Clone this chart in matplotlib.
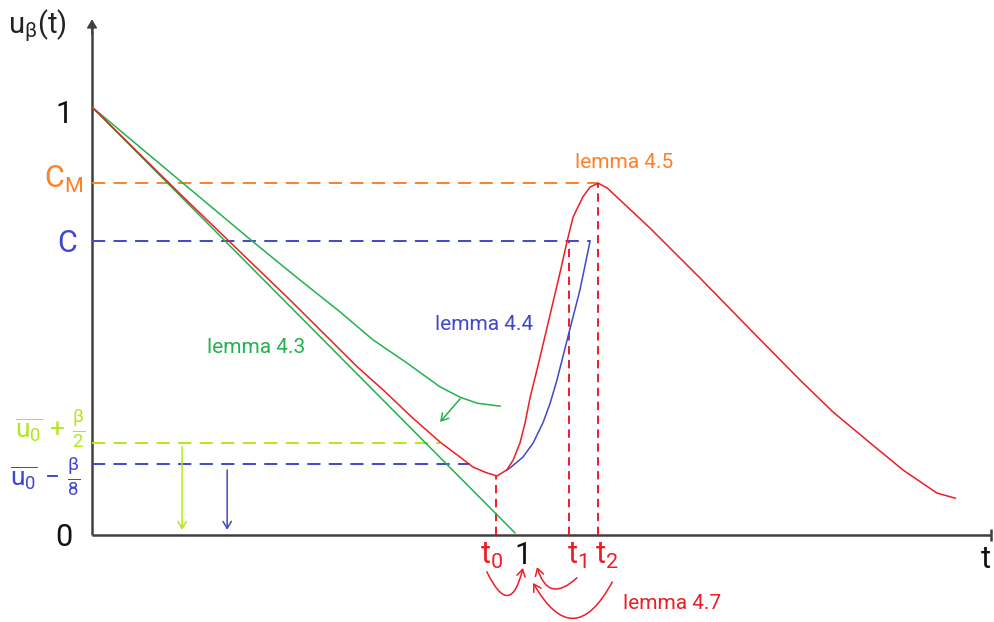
import matplotlib
matplotlib.use('Agg')
import matplotlib.pyplot as plt

plt.rcParams['font.family'] = ['Roboto', 'DejaVu Sans']
plt.rcParams['mathtext.fontset'] = 'custom'
plt.rcParams['mathtext.rm'] = 'Roboto'
plt.rcParams['mathtext.it'] = 'Roboto'
plt.rcParams['mathtext.sf'] = 'Roboto'
plt.rcParams['mathtext.bf'] = 'Roboto:bold'
plt.rcParams['lines.scale_dashes'] = False

RED = '#EE1C24'
ORANGE = '#FF7F27'
LIME = '#B5E61D'
BLUE = '#3F48CC'
GREEN = '#22B14C'
AXIS = '#404040'

# --- schematic data (t, u) ---
green_line_t = [0.0, 0.995]
green_line_u = [1.0, 0.005]

green_bound_t = [0.0, 0.214, 0.379, 0.489, 0.584, 0.661, 0.741, 0.819, 0.866, 0.906, 0.960]
green_bound_u = [1.0, 0.822, 0.685, 0.596, 0.521, 0.456, 0.402, 0.346, 0.322, 0.308, 0.301]

red_t = [0.0, 0.207, 0.466, 0.544, 0.624, 0.685, 0.755, 0.819, 0.866, 0.896,
         0.929, 0.953, 0.976, 0.991, 1.007, 1.019, 1.031, 1.047, 1.071, 1.101,
         1.118, 1.132, 1.155, 1.172, 1.191, 1.212, 1.313, 1.431, 1.548, 1.666,
         1.744, 1.831, 1.908, 1.988, 2.031]
red_u = [1.0, 0.797, 0.549, 0.472, 0.393, 0.339, 0.273, 0.217, 0.182, 0.159,
         0.145, 0.138, 0.152, 0.175, 0.215, 0.262, 0.322, 0.386, 0.486, 0.612,
         0.687, 0.743, 0.790, 0.813, 0.822, 0.811, 0.717, 0.600, 0.481, 0.362,
         0.287, 0.215, 0.152, 0.098, 0.086]

blue_t = [0.976, 0.984, 1.014, 1.038, 1.061, 1.078, 1.094, 1.118, 1.148, 1.172]
blue_u = [0.152, 0.157, 0.182, 0.215, 0.262, 0.308, 0.362, 0.456, 0.572, 0.687]

t0, t1, t2 = 0.951, 1.122, 1.191
u_min = 0.138
C_M = 0.822
C = 0.687
lvl_plus = 0.215   # u0 + beta/2
lvl_minus = 0.166  # u0 - beta/8
lvl_plus_end = 0.819
lvl_minus_end = 0.889
C_end = 1.172

fig = plt.figure(figsize=(9.95, 6.22), dpi=100)
ax = fig.add_axes([0, 0, 1, 1])
ax.set_xlim(-0.2165, 2.1247)
ax.set_ylim(-0.2033, 1.25)
ax.axis('off')

# axes
ax.plot([0, 2.115], [0, 0], color=AXIS, lw=1.8, solid_capstyle='butt')
ax.plot([0, 0], [0, 1.19], color=AXIS, lw=1.8, solid_capstyle='butt')
ax.annotate('', xy=(0, 1.205), xytext=(0, 1.17),
            arrowprops=dict(arrowstyle='-|>,head_length=0.5,head_width=0.3',
                            color=AXIS, lw=1.2, shrinkA=0, shrinkB=0))
ax.plot([2.115], [0], marker='|', color=AXIS, ms=9, mew=1.8)

# dashed levels
ax.plot([0, t2], [C_M, C_M], color=ORANGE, lw=1.4, dashes=(9.5, 6))
ax.plot([0, C_end], [C, C], color=BLUE, lw=1.4, dashes=(9.5, 6))
ax.plot([0, lvl_plus_end], [lvl_plus, lvl_plus], color=LIME, lw=1.4, dashes=(9.5, 6))
ax.plot([0, lvl_minus_end], [lvl_minus, lvl_minus], color=BLUE, lw=1.4, dashes=(9.5, 6))

# red verticals
for tv, uv in [(t0, u_min), (t1, C), (t2, C_M)]:
    ax.plot([tv, tv], [0, uv], color=RED, lw=1.4, dashes=(6, 4))

# curves
ax.plot(green_line_t, green_line_u, color=GREEN, lw=1.1)
ax.plot(green_bound_t, green_bound_u, color=GREEN, lw=1.1)
ax.plot(blue_t, blue_u, color=BLUE, lw=1.1)
ax.plot(red_t, red_u, color=RED, lw=1.1)

# small arrows
arrow_kw = dict(arrowstyle='->,head_length=0.5,head_width=0.3', lw=1.1, shrinkA=0, shrinkB=0)
ax.annotate('', xy=(0.819, 0.264), xytext=(0.866, 0.318),
            arrowprops=dict(color=GREEN, **arrow_kw))
ax.annotate('', xy=(0.212, 0.012), xytext=(0.212, 0.206),
            arrowprops=dict(color=LIME, **arrow_kw))
ax.annotate('', xy=(0.318, 0.012), xytext=(0.318, 0.152),
            arrowprops=dict(color=BLUE, **arrow_kw))

# red curved arrows under the axis
for a, b, rad in [((0.929, -0.086), (1.014, -0.077), 1.4),
                  ((1.141, -0.100), (1.047, -0.075), -0.8),
                  ((1.224, -0.110), (1.038, -0.112), -0.9)]:
    ax.annotate('', xy=b, xytext=a,
                arrowprops=dict(color=RED, connectionstyle=f'arc3,rad={rad}', **arrow_kw))

# labels
ax.text(-0.197, 1.173, r'u$_{\beta}$(t)', fontsize=21, color='#222222', ha='left', va='baseline')
ax.text(2.104, -0.077, 't', fontsize=22, color='#111111', ha='center', va='baseline')
ax.text(-0.045, 0.982, '1', fontsize=22, color='#111111', ha='right', va='center')
ax.text(-0.045, -0.005, '0', fontsize=22, color='#111111', ha='right', va='center')
ax.text(-0.022, 0.811, r'C$_{\mathrm{M}}$', fontsize=22, color=ORANGE, ha='right', va='baseline')
ax.text(-0.035, 0.661, 'C', fontsize=22, color=BLUE, ha='right', va='baseline')
ax.text(-0.016, 0.248, r'$\overline{u_0}\,+\,\frac{\beta}{2}$', fontsize=19, color=LIME, ha='right', va='center')
ax.text(-0.026, 0.136, r'$\overline{u_0}\,-\,\frac{\beta}{8}$', fontsize=19, color=BLUE, ha='right', va='center')

ax.text(0.939, -0.068, r't$_0$', fontsize=22, color=RED, ha='center', va='baseline')
ax.text(1.014, -0.068, '1', fontsize=22, color='#111111', ha='center', va='baseline')
ax.text(1.141, -0.068, r't$_1$', fontsize=22, color=RED, ha='center', va='baseline')
ax.text(1.212, -0.068, r't$_2$', fontsize=22, color=RED, ha='center', va='baseline')

ax.text(1.252, 0.871, 'lemma 4.5', fontsize=15, color=ORANGE, ha='center', va='center')
ax.text(0.922, 0.491, 'lemma 4.4', fontsize=15, color=BLUE, ha='center', va='center')
ax.text(0.386, 0.437, 'lemma 4.3', fontsize=15, color=GREEN, ha='center', va='center')
ax.text(1.365, -0.159, 'lemma 4.7', fontsize=15, color=RED, ha='center', va='center')

fig.savefig('out.png', dpi=100)
